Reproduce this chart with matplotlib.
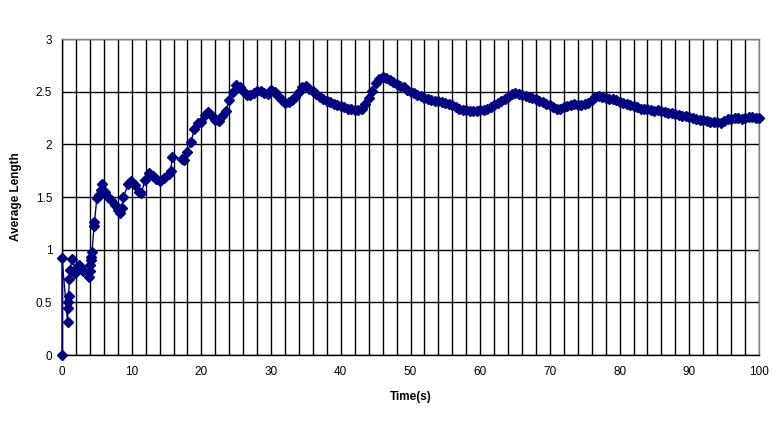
import matplotlib
matplotlib.use("Agg")
import matplotlib.pyplot as plt
import numpy as np

plt.rcParams['font.family'] = ['Liberation Sans', 'DejaVu Sans']

# Early sparse samples (time in s, average length)
t_early = [0, 0, 0.8, 0.85, 0.9, 0.95, 1.05, 1.1, 1.5, 1.9, 2.2, 2.5, 2.7, 3.0,
           3.9, 4.0, 4.05, 4.1, 4.2, 4.3, 4.6, 4.65, 5.0, 5.3, 5.6, 5.8, 6.1,
           6.6, 7.1, 7.6, 8.0, 8.3, 8.6, 8.8, 9.5, 9.9, 10.5, 11.0, 11.4, 11.9,
           12.5, 13.0, 13.5, 14.1, 14.7, 15.3, 15.6, 15.8, 17.2, 17.5]
v_early = [0.0, 0.92, 0.31, 0.45, 0.50, 0.56, 0.72, 0.81, 0.91, 0.78, 0.82, 0.85, 0.83, 0.80,
           0.74, 0.80, 0.85, 0.90, 0.93, 0.98, 1.22, 1.26, 1.49, 1.52, 1.57, 1.62, 1.55,
           1.50, 1.47, 1.42, 1.38, 1.35, 1.40, 1.50, 1.62, 1.65, 1.61, 1.55, 1.54, 1.66,
           1.73, 1.70, 1.67, 1.65, 1.68, 1.72, 1.75, 1.88, 1.86, 1.85]

# Dense samples, every 0.5 s from 18 s to 100 s
t_dense_start = 18.0
t_dense_step = 0.5
v_dense = [1.93, 2.02, 2.15, 2.20, 2.21, 2.28, 2.31, 2.27, 2.23, 2.22,
           2.27, 2.32, 2.42, 2.50, 2.56, 2.54, 2.51, 2.47, 2.47, 2.49,
           2.51, 2.51, 2.49, 2.48, 2.52, 2.50, 2.46, 2.42, 2.39, 2.40,
           2.42, 2.45, 2.50, 2.54, 2.55, 2.53, 2.51, 2.48, 2.45, 2.43,
           2.41, 2.40, 2.38, 2.37, 2.36, 2.35, 2.34, 2.34, 2.33, 2.33,
           2.34, 2.38, 2.44, 2.51, 2.58, 2.62, 2.64, 2.63, 2.61, 2.59,
           2.57, 2.55, 2.54, 2.52, 2.50, 2.49, 2.47, 2.46, 2.44, 2.43,
           2.42, 2.41, 2.41, 2.40, 2.39, 2.38, 2.37, 2.35, 2.34, 2.33,
           2.33, 2.32, 2.32, 2.32, 2.33, 2.33, 2.34, 2.35, 2.37, 2.39,
           2.41, 2.43, 2.45, 2.48, 2.49, 2.48, 2.47, 2.46, 2.45, 2.44,
           2.43, 2.41, 2.40, 2.38, 2.37, 2.35, 2.34, 2.34, 2.35, 2.36,
           2.37, 2.38, 2.37, 2.37, 2.38, 2.39, 2.42, 2.45, 2.46, 2.45,
           2.44, 2.43, 2.43, 2.42, 2.40, 2.39, 2.38, 2.37, 2.36, 2.35,
           2.34, 2.34, 2.34, 2.33, 2.32, 2.33, 2.32, 2.31, 2.30, 2.30,
           2.29, 2.28, 2.27, 2.27, 2.26, 2.25, 2.24, 2.23, 2.23, 2.22,
           2.21, 2.21, 2.21, 2.20, 2.22, 2.24, 2.24, 2.25, 2.25, 2.24,
           2.25, 2.26, 2.26, 2.25, 2.25]

t_dense = [t_dense_start + i * t_dense_step for i in range(len(v_dense))]
times = t_early + t_dense
values = v_early + v_dense

x_ticks = [0, 10, 20, 30, 40, 50, 60, 70, 80, 90, 100]
y_ticks = [0, 0.5, 1, 1.5, 2, 2.5, 3]
y_tick_labels = ['0', '0.5', '1', '1.5', '2', '2.5', '3']

fig = plt.figure(figsize=(7.84, 4.25), dpi=100)
ax = fig.add_axes([62/784, 1-355/425, (759-62)/784, (355-39)/425])

navy = '#000080'
ax.plot(times, values, color=navy, linewidth=1.0, marker='D', markersize=5.2,
        markerfacecolor=navy, markeredgecolor=navy, zorder=3, clip_on=False)

ax.set_xlim(0, 100)
ax.set_ylim(0, 3)
ax.set_xticks(x_ticks)
ax.set_xticks(np.arange(0, 101, 2), minor=True)
ax.set_yticks(y_ticks)
ax.set_yticklabels(y_tick_labels)
ax.grid(True, which='major', axis='y', color='black', linewidth=1.0)
ax.grid(True, which='both', axis='x', color='black', linewidth=1.0)
ax.set_axisbelow(True)
ax.tick_params(which='both', length=0, labelsize=8.5)
ax.tick_params(axis='x', pad=8)
ax.tick_params(axis='y', pad=7)

for s in ['left', 'bottom']:
    ax.spines[s].set_color('black')
    ax.spines[s].set_linewidth(1.0)
for s in ['top', 'right']:
    ax.spines[s].set_color('#808080')
    ax.spines[s].set_linewidth(1.0)

ax.set_xlabel('Time(s)', fontsize=8.5, fontweight='bold', labelpad=9)
ax.set_ylabel('Average Length', fontsize=8.5, fontweight='bold', labelpad=10)

# Chart title sits mostly above the visible canvas, as in the reference
fig.text(262/784, 1.0 + 6/425, 'Average Length', ha='center', va='baseline',
         fontsize=12, fontweight='bold')

fig.savefig('out.png', dpi=100)
